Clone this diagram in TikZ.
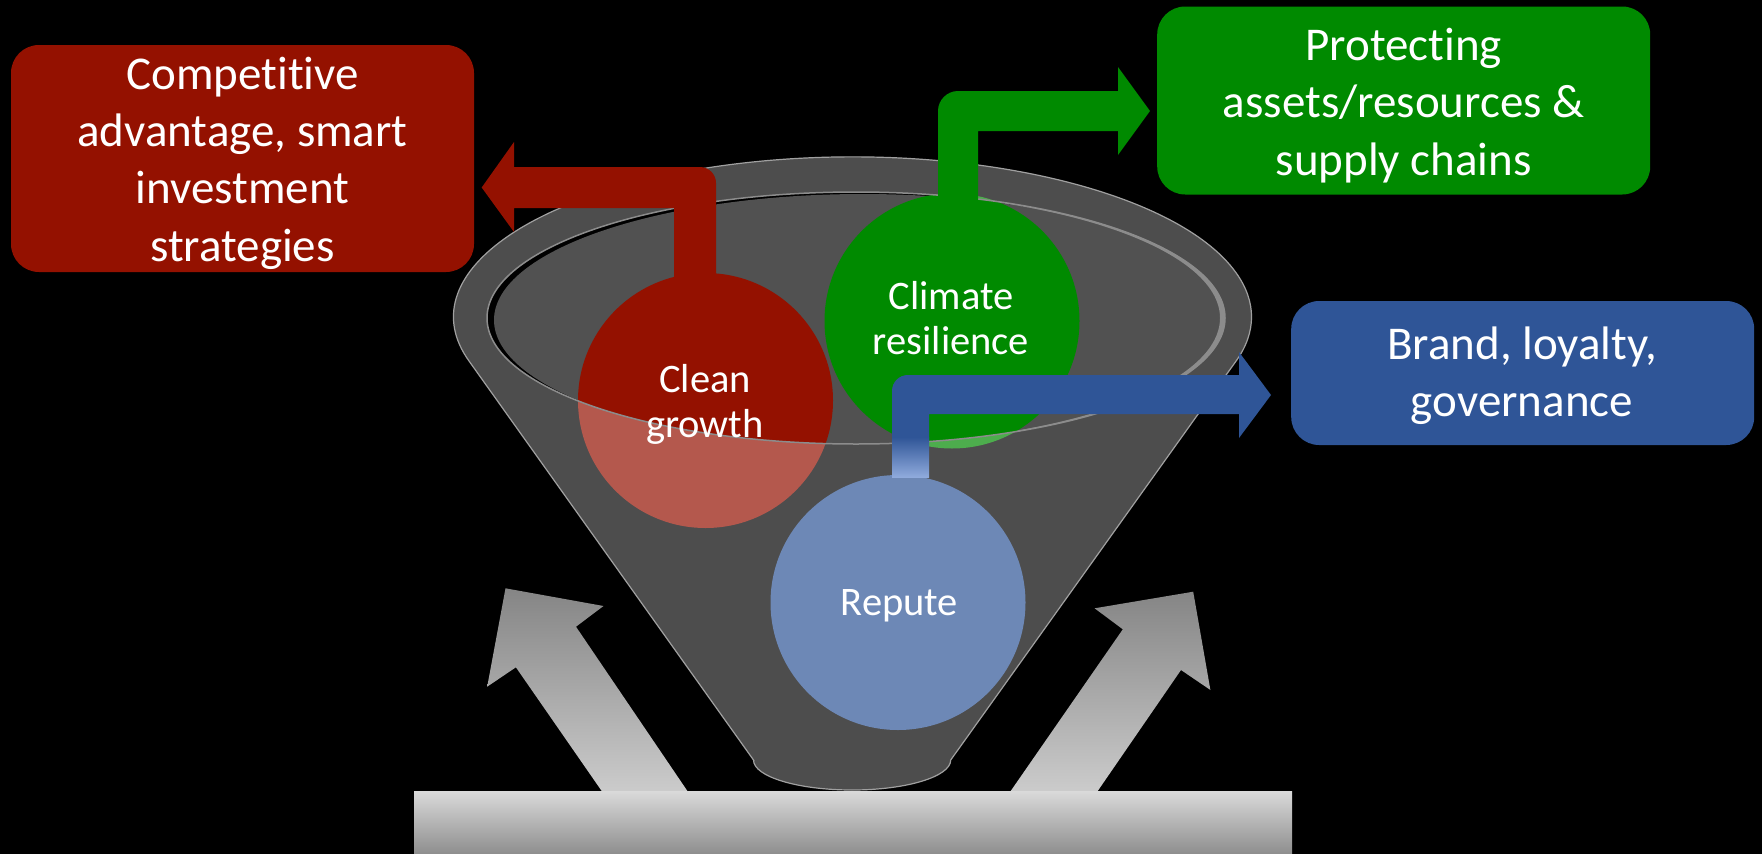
\documentclass[tikz,border=0pt]{standalone}
\usepackage{fontspec}
\setmainfont{Carlito}[Ligatures=NoCommon]
\definecolor{cred}{HTML}{941100}
\definecolor{cgreen}{HTML}{008A00}
\definecolor{cblue}{HTML}{2F5597}
\definecolor{lblue}{HTML}{8FAADC}
\definecolor{rimgray}{HTML}{A0A0A0}
\definecolor{innergray}{HTML}{515151}
\definecolor{hlgray}{HTML}{8C8C8C}
\definecolor{arrtop}{HTML}{858585}
\definecolor{arrbot}{HTML}{CBCBCB}
\definecolor{bartop}{HTML}{DADADA}
\definecolor{barmid}{HTML}{CACACA}
\definecolor{barbot}{HTML}{8E8E8E}
\begin{document}
\begin{tikzpicture}[x=1pt,y=-1pt,
  infobox/.style={rounded corners=28, inner sep=0, draw=none},
  boxtext/.style={text=white, align=center, inner sep=0, anchor=base,
    font=\fontsize{47}{57.3}\selectfont},
  bubble/.style={circle, inner sep=0, minimum size=255, draw=none},
  bubtext/.style={text=white, align=center, inner sep=0, anchor=base,
    font=\fontsize{40.5}{45}\selectfont},
  greyarrow/.style={top color=arrtop, bottom color=arrbot, draw=none}]
\useasboundingbox (0,0) rectangle (1762,854);
\fill[black] (0,0) rectangle (1762,854);

% interior of the funnel mouth
\begin{scope}
  \clip (856,318) ellipse [x radius=369, y radius=126];
  \fill[black] (856,318) ellipse [x radius=369, y radius=126];
  \fill[innergray] (863,320) ellipse [x radius=369, y radius=126];
  \fill[hlgray, even odd rule] (856,318) ellipse [x radius=369, y radius=126]
        (851,318) ellipse [x radius=369, y radius=126];
\end{scope}

% circles
\node[bubble, fill=cgreen] (climate) at (952,321) {};
\node[bubble, fill=cred] (clean) at (705.5,400.5) {};
\node[bubble, fill=cblue] (repute) at (898,602.5) {};

% front glass of the funnel
\fill[white, fill opacity=0.3, even odd rule]
  (753.5,760) -- (469,361) arc[start angle=164, end angle=376, x radius=399, y radius=160]
  -- (950.7,760) arc[start angle=0, end angle=180, x radius=98.6, y radius=30] -- cycle
  (856,318) ellipse [x radius=369, y radius=126];
\draw[rimgray, line width=1.2]
  (753.5,760) -- (469,361) arc[start angle=164, end angle=376, x radius=399, y radius=160]
  -- (950.7,760) arc[start angle=0, end angle=180, x radius=98.6, y radius=30] -- cycle;
\draw[hlgray, line width=1.5] (856,318) ellipse [x radius=369, y radius=126];

% boxes
\node[infobox, fill=cred, minimum width=463, minimum height=227] (cbox) at (242.5,158.5) {};
\node[infobox, fill=cgreen, minimum width=493, minimum height=188] (pbox) at (1403.7,100.5) {};
\node[infobox, fill=cblue, minimum width=463, minimum height=144] (bbox) at (1522.7,373) {};

% elbow arrows
\fill[cred] (674,280) -- (674,208) -- (514,208) -- (514,232) -- (481.7,187.5)
  -- (514,142) -- (514,167) -- (700,167) .. controls (708.8,167) and (716,174.2) .. (716,183)
  -- (716,280) -- cycle;
\fill[cgreen] (978,200) -- (978,131) -- (1118,131) -- (1118,155) -- (1150,111)
  -- (1118,67) -- (1118,91) -- (958,91) .. controls (947,91) and (938,100) .. (938,111)
  -- (938,200) -- cycle;
\fill[cblue] (929,440) -- (929,414) -- (1239,414) -- (1239,438) -- (1271,395)
  -- (1239,352) -- (1239,375) -- (908,375) .. controls (899,375) and (892,382) .. (892,391)
  -- (892,440) -- cycle;
\shade[top color=cblue, bottom color=lblue] (892,437) rectangle (929,477);

% texts (anchor base = last line)
\node[boxtext] (ctext) at (242.5,261) {Competitive\\advantage, smart\\investment\\strategies};
\node[boxtext] (ptext) at (1403.7,175) {Protecting\\assets/resources \&\\supply chains};
\node[boxtext] (btext) at (1522,416.7) {Brand, loyalty,\\governance};
\node[bubtext] (cleantext) at (705,437) {Clean\\growth};
\node[bubtext] (climtext) at (951,354) {Climate\\resilience};
\node[bubtext] (reptext) at (899.5,615) {Repute};

% grey input arrows and base bar
\shade[greyarrow] (505.5,588.3) -- (603.5,606) -- (576,626.7) -- (687.4,791)
  -- (601.7,791) -- (515.9,667.3) -- (487.2,686.7) -- cycle;
\shade[greyarrow] (1193.2,591.7) -- (1210.4,690) -- (1181,670) -- (1097.7,791)
  -- (1010.7,791) -- (1122.8,629.3) -- (1094.6,608.3) -- cycle;
\shade[top color=bartop, middle color=barmid, bottom color=barbot] (414,791) rectangle (1292,854);
\end{tikzpicture}
\end{document}
